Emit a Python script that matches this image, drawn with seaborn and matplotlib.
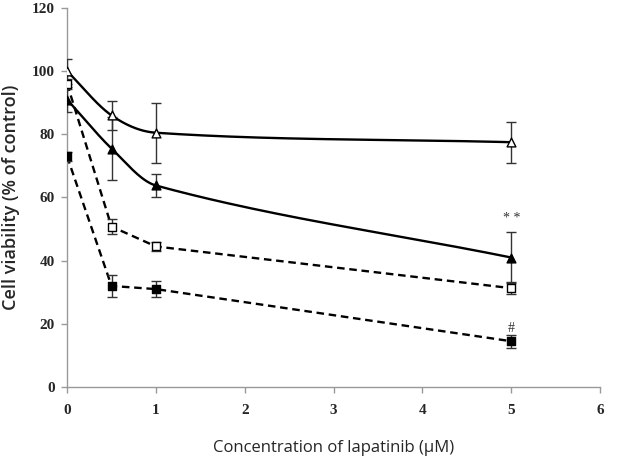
import numpy as np
import pandas as pd
import matplotlib
matplotlib.use("Agg")
import matplotlib.pyplot as plt
import seaborn as sns

conc = [0, 0.5, 1, 5]

open_tri = [100, 86, 80.5, 77.5]
open_tri_err = [4, 4.5, 9.5, 6.5]
filled_tri = [91, 75.5, 63.8, 41]
filled_tri_err = [4, 10, 3.5, 8]
open_sq = [96, 50.8, 44.5, 31.3]
open_sq_err = [1.5, 2.5, 1.5, 2]
filled_sq = [73, 32, 31, 14.5]
filled_sq_err = [1.5, 3.5, 2.5, 2]

series = [
    ("open_tri", open_tri, open_tri_err, "^", "white", "-", True),
    ("filled_tri", filled_tri, filled_tri_err, "^", "black", "-", True),
    ("open_sq", open_sq, open_sq_err, "s", "white", "--", False),
    ("filled_sq", filled_sq, filled_sq_err, "s", "black", "--", False),
]


def smooth_path(xs, ys, n=60):
    # cubic Hermite through the points, like a spreadsheet "smoothed line"
    xs = np.asarray(xs, float)
    ys = np.asarray(ys, float)
    m = np.empty_like(ys)
    m[0] = (ys[1] - ys[0]) / (xs[1] - xs[0])
    m[-1] = (ys[-1] - ys[-2]) / (xs[-1] - xs[-2])
    m[1:-1] = (ys[2:] - ys[:-2]) / (xs[2:] - xs[:-2])
    out_x, out_y = [], []
    for i in range(len(xs) - 1):
        h = xs[i + 1] - xs[i]
        t = np.linspace(0, 1, n)
        h00 = 2 * t ** 3 - 3 * t ** 2 + 1
        h10 = t ** 3 - 2 * t ** 2 + t
        h01 = -2 * t ** 3 + 3 * t ** 2
        h11 = t ** 3 - t ** 2
        out_x.extend(xs[i] + t * h)
        out_y.extend(h00 * ys[i] + h10 * h * m[i] + h01 * ys[i + 1] + h11 * h * m[i + 1])
    return out_x, out_y


sns.set_style("white")
fig = plt.figure(figsize=(6.33, 4.68), dpi=100)
ax = fig.add_axes([0.106, 0.173, 0.842, 0.81])

for name, vals, errs, mk, fc, ls, smooth in series:
    if smooth:
        sx, sy = smooth_path(conc, vals)
        ax.plot(sx, sy, color="black", lw=1.7, ls=ls, zorder=2)
    else:
        ax.plot(conc, vals, color="black", lw=1.7, ls=ls, dashes=(3.2, 2), zorder=2)
    ax.errorbar(conc, vals, yerr=errs, fmt="none", ecolor="#333333",
                elinewidth=1, capsize=3.5, capthick=1, zorder=3)
    df = pd.DataFrame({"x": conc, "y": vals})
    sns.scatterplot(data=df, x="x", y="y", marker=mk, s=40, color=fc,
                    edgecolor="black", linewidth=1, ax=ax, zorder=4)

ax.text(5, 53.5, "* *", ha="center", va="center", fontsize=10,
        family="Liberation Serif", color="#333333")
ax.text(5, 18.5, "#", ha="center", va="center", fontsize=10,
        family="Liberation Serif", color="#333333")

ax.set_xlim(0, 6)
ax.set_ylim(0, 120)
ax.set_xticks(range(0, 7))
ax.set_yticks(range(0, 121, 20))
for s in ["top", "right"]:
    ax.spines[s].set_visible(False)
for s in ["left", "bottom"]:
    ax.spines[s].set_color("#999999")
    ax.spines[s].set_linewidth(1)
ax.tick_params(axis="both", which="major", direction="out", length=4,
               color="#999999", width=1, bottom=True, left=True)
ax.tick_params(axis="x", pad=8)
ax.tick_params(axis="y", pad=5)
for lab in ax.get_xticklabels() + ax.get_yticklabels():
    lab.set_family("Liberation Serif")
    lab.set_fontweight("bold")
    lab.set_fontsize(11)

ax.set_xlabel("Concentration of lapatinib (\u03bcM)", family="Open Sans",
              fontsize=12, labelpad=17)
ax.set_ylabel("Cell viability (% of control)", family="Open Sans",
              fontsize=13, fontweight="semibold", labelpad=8)

fig.savefig("out.png", dpi=100)
